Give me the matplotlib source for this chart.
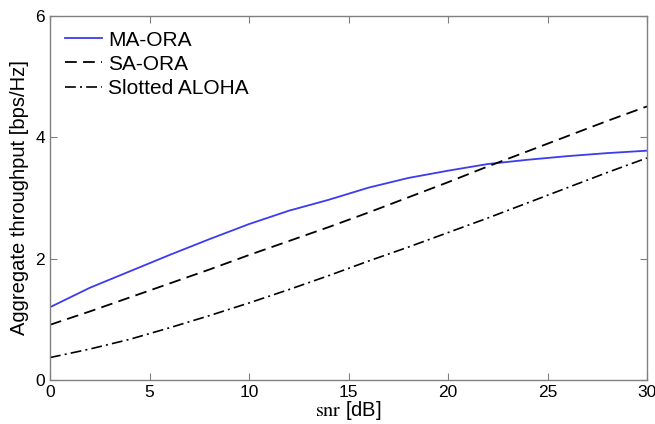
import matplotlib
matplotlib.use("Agg")
import matplotlib.pyplot as plt

plt.rcParams['font.family'] = ['Liberation Sans', 'DejaVu Sans']
plt.rcParams['mathtext.fontset'] = 'stix'

snr = [0, 2, 4, 6, 8, 10, 12, 14, 16, 18, 20, 22, 24, 26, 28, 30]
ma_ora = [1.20, 1.52, 1.79, 2.06, 2.32, 2.57, 2.79, 2.97, 3.17, 3.33, 3.45, 3.56, 3.63, 3.69, 3.74, 3.78]
sa_ora = [0.91, 1.13, 1.36, 1.59, 1.82, 2.06, 2.29, 2.52, 2.76, 3.01, 3.26, 3.52, 3.77, 4.02, 4.27, 4.51]
aloha = [0.37, 0.51, 0.67, 0.86, 1.06, 1.27, 1.49, 1.72, 1.96, 2.19, 2.43, 2.67, 2.92, 3.17, 3.42, 3.66]

labels = ['MA-ORA', 'SA-ORA', 'Slotted ALOHA']
xticks = [0, 5, 10, 15, 20, 25, 30]
yticks = [0, 2, 4, 6]

fig = plt.figure(figsize=(6.55, 4.24), dpi=100)
ax = fig.add_axes([50/655, 1 - 380/424, 597/655, 364/424])

ax.plot(snr, ma_ora, color='#3b3bf0', lw=1.3, label=labels[0])
ax.plot(snr, sa_ora, color='black', lw=1.3, linestyle=(0, (6.5, 3.5)), label=labels[1])
ax.plot(snr, aloha, color='black', lw=1.2, linestyle=(0, (6.5, 2.5, 1.2, 2.5)), label=labels[2])

ax.set_xlim(0, 30)
ax.set_ylim(0, 6)
ax.set_xticks(xticks)
ax.set_yticks(yticks)
ax.tick_params(direction='in', top=True, right=True, length=5, width=0.8,
               color='#808080', labelsize=12.5, pad=3.5)
for s in ax.spines.values():
    s.set_color('#808080')
    s.set_linewidth(1.0)

ax.set_xlabel(r'$\mathrm{snr}$ [dB]', fontsize=14.5)
ax.xaxis.set_label_coords(0.5, -(399 - 380) / 364)
ax.set_ylabel('Aggregate throughput [bps/Hz]', fontsize=14.5)
ax.yaxis.set_label_coords(-(50 - 29) / 597, 0.5)

leg = ax.legend(loc='upper left', frameon=False, fontsize=15, handlelength=1.8,
                handletextpad=0.3, labelspacing=0.25, borderaxespad=0.3,
                bbox_to_anchor=(0.0, 1.0))

fig.savefig('out.png', dpi=100)
